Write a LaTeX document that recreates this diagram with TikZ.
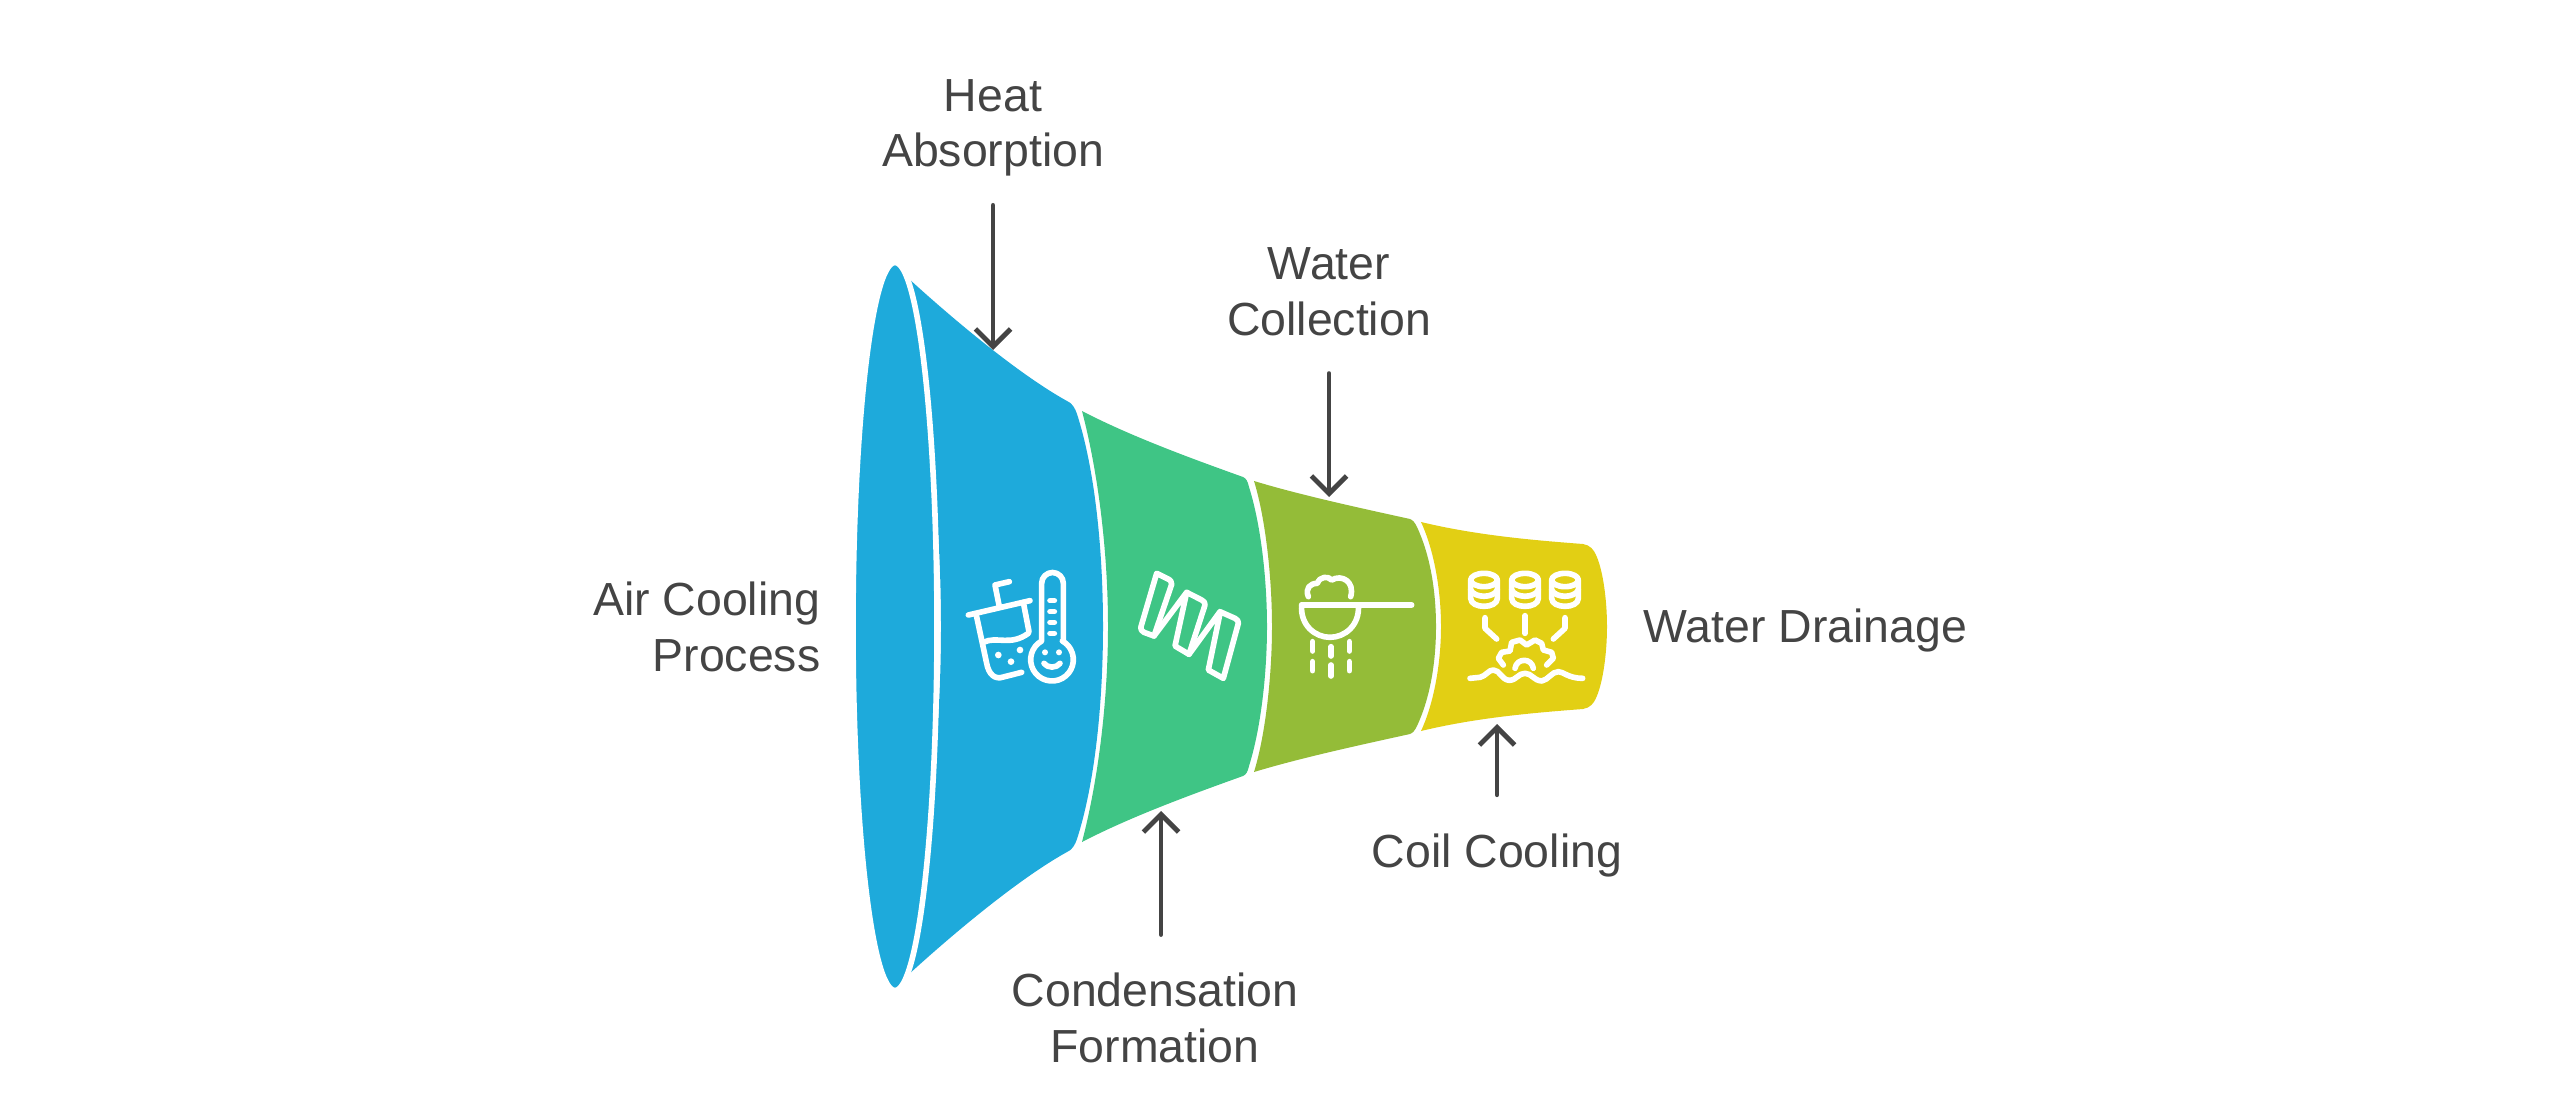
\documentclass[tikz,border=0pt]{standalone}
\usepackage{fontspec}
\setmainfont{Liberation Sans}
\usetikzlibrary{arrows.meta}
\definecolor{funnelblue}{HTML}{1EAADB}
\definecolor{funnelgreen}{HTML}{3FC585}
\definecolor{funnelolive}{HTML}{94BC38}
\definecolor{funnelyellow}{HTML}{E2CF14}
\definecolor{labelgray}{HTML}{444444}
\tikzset{
  icon/.style={draw=white,line width=1.6pt,line cap=round,line join=round},
  label/.style={text=labelgray,align=center,inner sep=0pt,outer ysep=10pt,font=\fontsize{13.2}{15.8}\selectfont}
}
\begin{document}
\begin{tikzpicture}[x=0.01cm,y=-0.01cm]
        \useasboundingbox (0,0) rectangle (2560,1094);
        \fill[funnelblue] (908,278) .. controls (955,321) and (1020,375) .. (1067,401) .. controls (1072,403) and (1075,408) .. (1077,414) .. controls (1095,470) and (1103,550) .. (1103,626.5) .. controls (1103,703) and (1095,783) .. (1077,839) .. controls (1075,845) and (1072,850) .. (1067,852) .. controls (1020,878) and (955,932) .. (908,975) .. controls (925,870) and (941,750) .. (941,626.5) .. controls (941,503) and (925,383) .. (908,278) -- cycle;
        \draw[fill=funnelblue,draw=white,line width=1.6pt] (895,626.5) ellipse [x radius=42,y radius=364];
        \fill[funnelgreen] (1082,411) .. controls (1130,436) and (1190,458) .. (1243,477) .. controls (1246,478) and (1248,482) .. (1249,487) .. controls (1261,525) and (1267,580) .. (1267,626.5) .. controls (1267,673) and (1261,728) .. (1249,766) .. controls (1248,771) and (1246,775) .. (1243,776) .. controls (1190,795) and (1130,817) .. (1082,842) .. controls (1100,773) and (1108,693) .. (1108,626.5) .. controls (1108,560) and (1100,480) .. (1082,411) -- cycle;
        \fill[funnelolive] (1254,481) .. controls (1300,495) and (1360,508) .. (1410,519) .. controls (1413,520) and (1415,523) .. (1417,527) .. controls (1430,555) and (1436,590) .. (1436,626.5) .. controls (1436,663) and (1430,698) .. (1417,726) .. controls (1415,730) and (1413,733) .. (1410,734) .. controls (1360,745) and (1300,758) .. (1254,772) .. controls (1266,733) and (1272,673) .. (1272,626.5) .. controls (1272,580) and (1266,520) .. (1254,481) -- cycle;
        \fill[funnelyellow] (1421,522) .. controls (1475,535) and (1530,540) .. (1583,544) .. controls (1590,545) and (1594,550) .. (1596,555) .. controls (1603,570) and (1607,600) .. (1607,626.5) .. controls (1607,653) and (1603,683) .. (1596,698) .. controls (1594,703) and (1590,708) .. (1583,709) .. controls (1530,713) and (1475,718) .. (1421,731) .. controls (1434,703) and (1441,663) .. (1441,626.5) .. controls (1441,590) and (1434,550) .. (1421,522) -- cycle;
        \begin{scope}[shift={(960,565)},scale=1/3]
          \draw[icon] (25,150) -- (210,107);
          \draw[icon] (48,146) -- (80,295) .. controls (86,328) and (105,345) .. (130,336) -- (185,322);
          \draw[icon] (190,112) -- (207,200);
          \draw[icon] (118,125) -- (105,60) -- (148,50);
          \draw[icon] (70,232) .. controls (110,212) and (150,245) .. (205,205);
          \fill[white] (115,270) circle [radius=10] (153,290) circle [radius=10] (180,255) circle [radius=10];
          \draw[icon] (310,228) -- (310,55) arc [start angle=0,end angle=-180,radius=32.5] -- (245,228) arc [start angle=241,end angle=-61,radius=64];
          \foreach \y in {107,140,172,205} {
            \draw[icon] (270,\y) -- (283,\y);
          }
          \fill[white] (255,262) circle [radius=9] (297,262) circle [radius=9];
          \draw[icon] (252,295) .. controls (262,310) and (290,310) .. (300,295);
        \end{scope}
        \begin{scope}[shift={(1130,565)},scale=1/3]
          \draw[icon] (125,58) .. controls (124,50) and (122,46) .. (118,44) -- (80,25) -- (33,185) .. controls (32,195) and (36,199) .. (42,202) -- (72,213) -- (125,58);
          \draw[icon] (72,213) -- (170,82) -- (215,105) .. controls (222,109) and (226,113) .. (225,120) -- (177,268) -- (135,243) -- (170,82);
          \draw[icon] (177,268) -- (270,140) -- (315,160) .. controls (322,164) and (326,168) .. (325,175) -- (280,340) -- (235,315) -- (270,145);
        \end{scope}
        \begin{scope}[shift={(1280,550)},scale=1/3]
          \draw[icon] (65,165) -- (395,165);
          \draw[icon] (65,165) .. controls (60,225) and (105,262) .. (150,262) .. controls (195,262) and (240,225) .. (235,165);
          \draw[icon] (85,140) .. controls (75,115) and (90,100) .. (112,100) .. controls (120,78) and (145,78) .. (155,90) .. controls (185,72) and (225,95) .. (212,140);
          \foreach \x/\ya/\yb in {98/275/303,98/335/362,153/290/318,153/345/378,208/275/303,208/335/362} {
            \draw[icon] (\x,\ya) -- (\x,\yb);
          }
        \end{scope}
        \begin{scope}[shift={(1460,565)},scale=1/3]
          \foreach \x in {72,195,315} {
            \draw[icon] (\x,45) ellipse [x radius=40,y radius=20];
            \draw[icon] (\x-40,45) -- (\x-40,100) .. controls (\x-40,132) and (\x+40,132) .. (\x+40,100) -- (\x+40,45);
            \draw[icon] (\x-40,75) .. controls (\x-28,100) and (\x+28,100) .. (\x+40,75);
          }
          \draw[icon] (75,158) -- (75,190) -- (110,222);
          \draw[icon] (195,152) -- (195,205);
          \draw[icon] (315,158) -- (315,190) -- (280,222);
          \draw[icon] (130,300) -- (115,280) -- (125,262) -- (150,258) -- (155,232) -- (180,225) -- (200,240) -- (225,225) -- (245,235) -- (250,255) -- (275,262) -- (280,280) -- (260,300);
          \draw[icon] (165,310) .. controls (170,278) and (215,278) .. (220,310);
          \draw[icon] (30,340) -- (60,337) .. controls (78,333) and (85,315) .. (100,315) .. controls (120,315) and (125,345) .. (148,346) .. controls (170,345) and (175,325) .. (195,325) .. controls (215,325) and (220,346) .. (245,348) .. controls (265,345) and (275,320) .. (295,320) .. controls (310,320) and (325,340) .. (368,340);
        \end{scope}
        \begin{scope}[every node/.style={label}]
          \node (air) [anchor=east,align=right] at (821,627) {Air Cooling\\Process};
          \node (heat) at (993,128) {Heat\\Absorption};
          \node (condensation) at (1155,1018) {Condensation\\Formation};
          \node (collection) at (1329,292) {Water\\Collection};
          \node (coil) at (1497,855) {Coil Cooling};
          \node (drainage) [anchor=west] at (1643,630) {Water Drainage};
        \end{scope}
        \coordinate (heatTip) at (993,350);
        \coordinate (condensationTip) at (1161,811);
        \coordinate (collectionTip) at (1329,497);
        \coordinate (coilTip) at (1497,724);
        \begin{scope}[every edge/.style={draw=labelgray,line width=1.4pt,line cap=round,-{Straight Barb[length=5pt,width=10pt]}}]
          \path (heat.south -| heatTip) edge [shorten <=-1.8pt] (heatTip);
          \path (condensation.north -| condensationTip) edge [shorten <=1pt] (condensationTip);
          \path (collection.south -| collectionTip) edge [shorten <=0.7pt] (collectionTip);
          \path (coil.north -| coilTip) edge [shorten <=1pt] (coilTip);
        \end{scope}
\end{tikzpicture}
\end{document}
